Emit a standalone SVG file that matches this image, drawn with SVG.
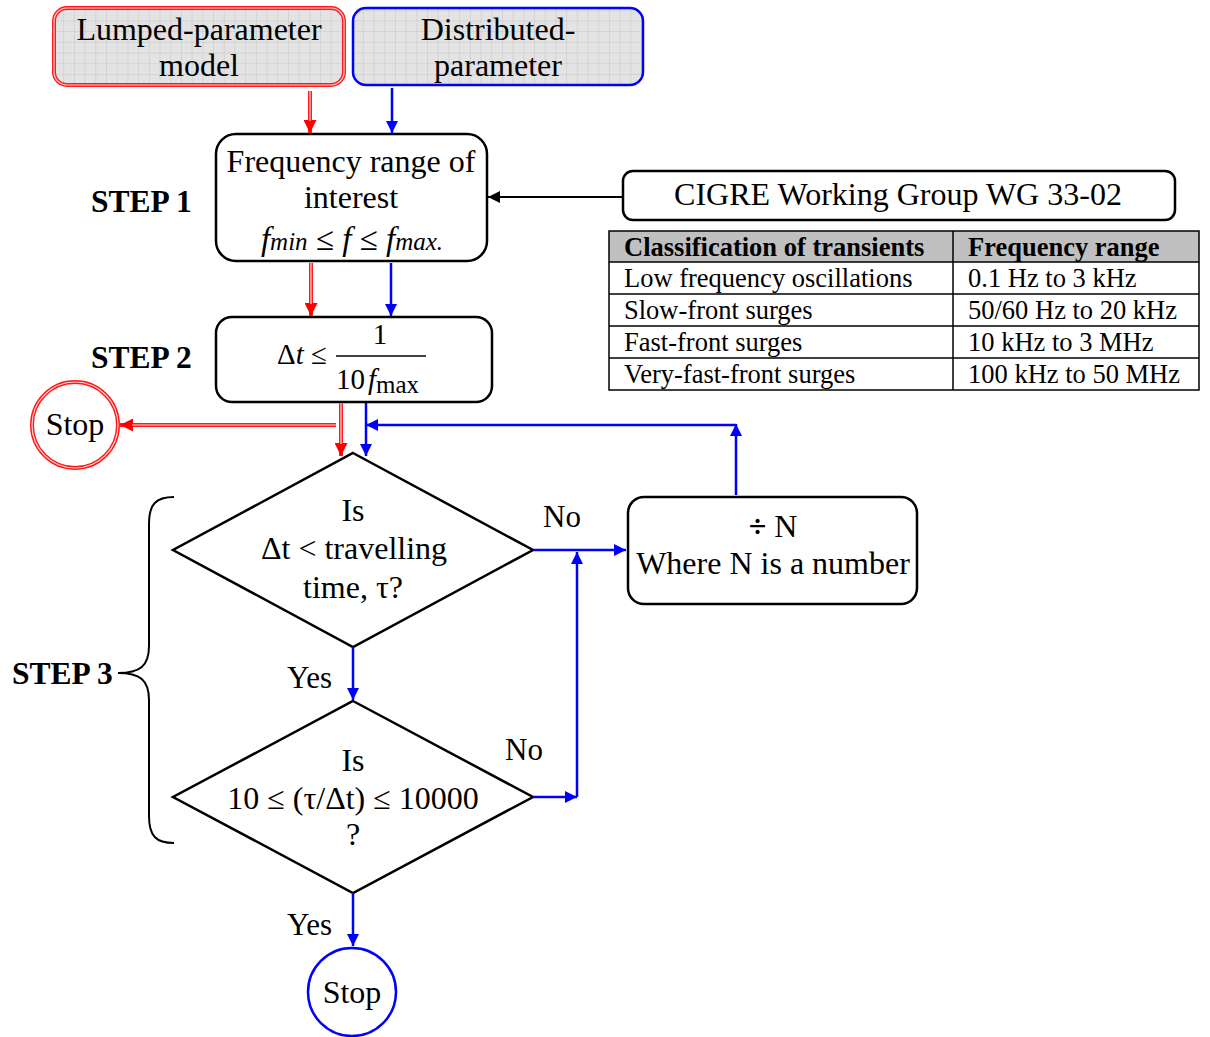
<svg xmlns="http://www.w3.org/2000/svg" width="1210" height="1037" viewBox="0 0 1210 1037">
  <style>
    text { font-family: "Liberation Serif", "Times New Roman", serif; fill: #000; }
    .t { font-size: 32px; text-anchor: middle; }
    .lbl { font-size: 31px; }
    .step { font-size: 31.5px; font-weight: bold; }
    .tb { font-size: 26.5px; }
    .tbh { font-size: 26.5px; font-weight: bold; }
    .box { fill: #fff; stroke: #000; stroke-width: 2.5; }
    .blue { fill: none; stroke: #0000ff; stroke-width: 2.5; }
    .red { fill: none; stroke: #ff1a1a; stroke-width: 4; }
    .redgap { fill: none; stroke: #ffd6d6; stroke-width: 1.2; }
    .black { fill: none; stroke: #000; stroke-width: 2; }
    .cell { fill: none; stroke: #000; stroke-width: 1.5; }
    .model { fill: url(#grid); }
  </style>
  <defs>
    <pattern id="grid" width="10.7" height="10.7" patternUnits="userSpaceOnUse">
      <rect width="10.7" height="10.7" fill="#e3e3e3"/>
      <path d="M10.7,0 V10.7 M0,10.7 H10.7" stroke="#c4c4c4" stroke-width="1"/>
    </pattern>
    <marker id="ab" viewBox="0 0 12 12" refX="12" refY="6" markerWidth="12" markerHeight="12" markerUnits="userSpaceOnUse" orient="auto">
      <path d="M0,0 L12,6 L0,12 z" fill="#0000ff"/>
    </marker>
    <marker id="ar" viewBox="0 0 12 12" refX="12" refY="6" markerWidth="13" markerHeight="13" markerUnits="userSpaceOnUse" orient="auto">
      <path d="M0,0 L12,6 L0,12 z" fill="#ff0000"/>
    </marker>
    <marker id="ak" viewBox="0 0 12 12" refX="12" refY="6" markerWidth="12" markerHeight="12" markerUnits="userSpaceOnUse" orient="auto">
      <path d="M0,0 L12,6 L0,12 z" fill="#000"/>
    </marker>
  </defs>

  <rect width="1210" height="1037" fill="#fff"/>

  <!-- model selection boxes -->
  <g id="lumped">
    <rect x="54" y="8" width="290" height="77" rx="13" class="model"/>
    <rect x="54" y="8" width="290" height="77" rx="13" class="red"/>
    <rect x="54" y="8" width="290" height="77" rx="13" class="redgap"/>
    <text class="t" x="199" y="40">Lumped-parameter</text>
    <text class="t" x="199" y="76">model</text>
  </g>
  <g id="distributed">
    <rect x="353" y="8" width="290" height="77" rx="13" class="model" stroke="#0000ff" stroke-width="2.5"/>
    <text class="t" x="498" y="40">Distributed-</text>
    <text class="t" x="498" y="76">parameter</text>
  </g>

  <!-- step labels -->
  <g id="step-labels">
    <text class="step" x="91" y="212">STEP 1</text>
    <text class="step" x="91" y="368">STEP 2</text>
    <text class="step" x="12" y="684">STEP 3</text>
    <path d="M174,497 C156,497 149,504 149,524 L149,646 C149,666 140,673 118,673 C140,673 149,680 149,700 L149,816 C149,836 156,843 174,843" fill="none" stroke="#000" stroke-width="2"/>
  </g>

  <g id="freq-range">
    <rect x="216" y="134" width="271" height="127" rx="20" class="box"/>
    <text class="t" x="351" y="172">Frequency range of</text>
    <text class="t" x="351" y="208">interest</text>
    <text x="352" y="250" text-anchor="middle" font-style="italic" font-size="33"><tspan>f</tspan><tspan font-size="25">min</tspan><tspan> ≤ f ≤ f</tspan><tspan font-size="25">max.</tspan></text>
  </g>

  <g id="time-step">
    <rect x="216" y="317" width="276" height="85" rx="16" class="box"/>
    <text x="277" y="364" font-size="29">Δ<tspan font-style="italic">t</tspan> ≤</text>
    <line x1="336" y1="356" x2="426" y2="356" stroke="#000" stroke-width="1.5"/>
    <text x="380" y="344" font-size="29" text-anchor="middle">1</text>
    <text x="336" y="389" font-size="29">10<tspan font-style="italic" dx="3">f</tspan><tspan font-size="25" dy="4">max</tspan></text>
  </g>

  <g id="cigre">
    <rect x="623" y="171" width="552" height="49" rx="10" class="box"/>
    <text class="t" x="898" y="205">CIGRE Working Group WG 33-02</text>
  </g>

  <g id="transient-table">
    <rect x="609" y="231" width="590" height="31" fill="#c0c0c0"/>
    <rect x="609" y="231" width="590" height="159" class="cell"/>
    <path d="M609,262 H1199 M609,294 H1199 M609,326 H1199 M609,358 H1199 M953,231 V390" class="cell"/>
    <text class="tbh" x="624" y="256">Classification of transients</text>
    <text class="tbh" x="968" y="256">Frequency range</text>
    <text class="tb" x="624" y="287">Low frequency oscillations</text>
    <text class="tb" x="968" y="287">0.1 Hz to 3 kHz</text>
    <text class="tb" x="624" y="319">Slow-front surges</text>
    <text class="tb" x="968" y="319">50/60 Hz to 20 kHz</text>
    <text class="tb" x="624" y="351">Fast-front surges</text>
    <text class="tb" x="968" y="351">10 kHz to 3 MHz</text>
    <text class="tb" x="624" y="383">Very-fast-front surges</text>
    <text class="tb" x="968" y="383">100 kHz to 50 MHz</text>
  </g>

  <g id="stop-red">
    <circle cx="75" cy="425" r="43" class="red"/>
    <circle cx="75" cy="425" r="43" class="redgap"/>
    <text class="t" x="75" y="435">Stop</text>
  </g>

  <g id="check-travel">
    <polygon points="353,453 533,550 353,647 173,550" fill="#fff" stroke="#000" stroke-width="2.5"/>
    <text class="t" x="353" y="521">Is</text>
    <text class="t" x="354" y="559">Δt &lt; travelling</text>
    <text class="t" x="353" y="598">time, τ?</text>
  </g>

  <g id="divide-n">
    <rect x="628" y="497" width="289" height="107" rx="16" class="box"/>
    <text class="t" x="773" y="537"><tspan font-weight="bold">÷</tspan> N</text>
    <text class="t" x="773" y="574">Where N is a number</text>
  </g>

  <g id="check-ratio">
    <polygon points="353,701 533,797 353,893 173,797" fill="#fff" stroke="#000" stroke-width="2.5"/>
    <text class="t" x="353" y="771">Is</text>
    <text class="t" x="353" y="809">10 ≤ (τ/Δt) ≤ 10000</text>
    <text class="t" x="353" y="845">?</text>
  </g>

  <g id="stop-blue">
    <circle cx="352" cy="992" r="44" fill="#fff" stroke="#0000ff" stroke-width="2.5"/>
    <text class="t" x="352" y="1003">Stop</text>
  </g>

  <!-- connectors -->
  <g id="connectors">
    <!-- lumped path (double red) -->
    <path class="red" d="M310,91 V133" marker-end="url(#ar)"/>
    <path class="redgap" d="M310,91 V121"/>
    <path class="red" d="M311,263 V316" marker-end="url(#ar)"/>
    <path class="redgap" d="M311,263 V304"/>
    <path class="red" d="M341,403 V456" marker-end="url(#ar)"/>
    <path class="redgap" d="M341,403 V444"/>
    <path class="red" d="M336,425 H120" marker-end="url(#ar)"/>
    <path class="redgap" d="M336,425 H132"/>

    <!-- distributed path -->
    <path class="blue" d="M392,88 V133" marker-end="url(#ab)"/>
    <path class="blue" d="M391,263 V316" marker-end="url(#ab)"/>
    <path class="blue" d="M366,403 V456" marker-end="url(#ab)"/>
    <path class="blue" d="M736,495 V424" marker-end="url(#ab)"/>
    <path class="blue" d="M736,425 H366" marker-end="url(#ab)"/>
    <path class="blue" d="M533,550 H626" marker-end="url(#ab)"/>
    <path class="blue" d="M577,797 V552" marker-end="url(#ab)"/>
    <path class="blue" d="M533,797 H577" marker-end="url(#ab)"/>
    <path class="blue" d="M353,647 V700" marker-end="url(#ab)"/>
    <path class="blue" d="M353,893 V946" marker-end="url(#ab)"/>

    <!-- reference classification -->
    <path class="black" d="M622,197 H488" marker-end="url(#ak)"/>

    <text class="lbl" x="543" y="527">No</text>
    <text class="lbl" x="505" y="760">No</text>
    <text class="lbl" x="287" y="688">Yes</text>
    <text class="lbl" x="287" y="935">Yes</text>
  </g>
</svg>
